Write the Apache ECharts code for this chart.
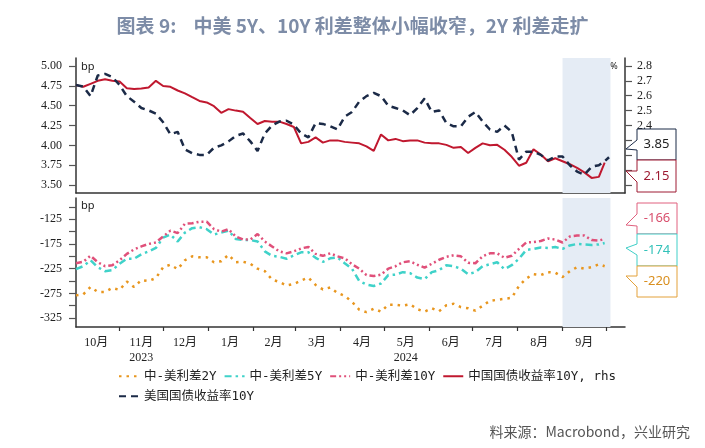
<!DOCTYPE html>
<html><head><meta charset="utf-8">
<script src="https://cdn.jsdelivr.net/npm/echarts@6/dist/echarts.min.js"></script>
<style>html,body{margin:0;padding:0;background:#fff}#c{width:705px;height:448px}</style>
</head><body><div id="c"></div>
<script>
const dates = ['2023-10-02','2023-10-07','2023-10-12','2023-10-17','2023-10-22','2023-10-27','2023-11-01','2023-11-06','2023-11-11','2023-11-16','2023-11-21','2023-11-26','2023-12-01','2023-12-06','2023-12-11','2023-12-16','2023-12-21','2023-12-26','2023-12-31','2024-01-05','2024-01-10','2024-01-15','2024-01-20','2024-01-25','2024-01-30','2024-02-04','2024-02-09','2024-02-14','2024-02-19','2024-02-24','2024-02-29','2024-03-05','2024-03-10','2024-03-15','2024-03-20','2024-03-25','2024-03-30','2024-04-04','2024-04-09','2024-04-14','2024-04-19','2024-04-24','2024-04-29','2024-05-04','2024-05-09','2024-05-14','2024-05-19','2024-05-24','2024-05-29','2024-06-03','2024-06-08','2024-06-13','2024-06-18','2024-06-23','2024-06-28','2024-07-03','2024-07-08','2024-07-13','2024-07-18','2024-07-23','2024-07-28','2024-08-02','2024-08-07','2024-08-12','2024-08-17','2024-08-22','2024-08-27','2024-09-01','2024-09-06','2024-09-11','2024-09-16','2024-09-21','2024-09-26','2024-09-30','2024-10-03'];

const cn10y = [2.671,2.66,2.68,2.70,2.71,2.70,2.695,2.65,2.645,2.648,2.655,2.70,2.665,2.66,2.635,2.616,2.59,2.565,2.555,2.53,2.485,2.51,2.50,2.493,2.45,2.41,2.43,2.426,2.426,2.41,2.39,2.28,2.29,2.32,2.285,2.30,2.30,2.29,2.285,2.28,2.26,2.23,2.34,2.30,2.31,2.295,2.30,2.30,2.285,2.28,2.28,2.27,2.25,2.255,2.215,2.25,2.28,2.267,2.27,2.237,2.19,2.13,2.15,2.24,2.205,2.16,2.18,2.16,2.14,2.115,2.085,2.048,2.055,2.15];

const us10y = [4.76,4.74,4.62,4.88,4.90,4.86,4.76,4.62,4.55,4.47,4.44,4.40,4.29,4.14,4.17,3.95,3.90,3.88,3.88,3.97,4.00,4.05,4.12,4.15,4.05,3.93,4.15,4.25,4.30,4.31,4.26,4.15,4.10,4.28,4.27,4.24,4.20,4.36,4.42,4.55,4.62,4.66,4.62,4.50,4.47,4.44,4.38,4.47,4.59,4.42,4.44,4.28,4.24,4.24,4.36,4.42,4.30,4.20,4.17,4.25,4.17,3.82,3.92,3.92,3.88,3.81,3.86,3.86,3.75,3.67,3.63,3.73,3.75,3.80,3.85];

const spread2y = [-279,-277,-262,-272,-272,-264,-268,-251,-262,-248,-250,-244,-222,-217,-226,-208,-200,-202,-202,-212,-210,-197,-212,-211,-215,-225,-230,-247,-252,-259,-256,-249,-243,-258,-267,-263,-274,-280,-292,-308,-313,-306,-312,-298,-298,-300,-297,-307,-312,-305,-311,-299,-296,-303,-305,-310,-300,-290,-288,-286,-284,-260,-245,-236,-238,-232,-233,-242,-230,-222,-225,-222,-216,-220];

const spread5y = [-226,-220,-208,-222,-230,-228,-215,-205,-205,-196,-190,-183,-162,-156,-170,-152,-143,-141,-145,-156,-152,-148,-165,-167,-167,-170,-190,-199,-201,-205,-198,-192,-192,-203,-211,-204,-202,-214,-225,-250,-257,-260,-255,-238,-237,-232,-234,-243,-246,-232,-228,-218,-220,-225,-236,-232,-220,-216,-212,-226,-218,-205,-187,-185,-182,-183,-181,-185,-178,-175,-176,-177,-176,-173];

const spread10y = [-214,-211,-199,-212,-220,-218,-208,-195,-186,-180,-175,-172,-160,-148,-153,-134,-133,-130,-130,-145,-150,-145,-160,-166,-166,-155,-170,-180,-190,-194,-190,-184,-181,-195,-199,-194,-200,-204,-216,-225,-238,-240,-237,-225,-220,-212,-210,-217,-223,-215,-207,-201,-198,-200,-213,-214,-200,-194,-194,-203,-199,-185,-172,-171,-169,-164,-166,-172,-160,-158,-158,-167,-168,-165];

const leftTicks = [3.5,3.75,4.0,4.25,4.5,4.75,5.0];
const rightTicks = [2.0,2.1,2.2,2.3,2.4,2.5,2.6,2.7,2.8];
const spreadLabelTicks = [-125,-175,-225,-275,-325];
const spreadTicks = [-100,-125,-150,-175,-200,-225,-250,-275,-300,-325];
const monthLabels = ['10月','11月','12月','1月','2月','3月','4月','5月','6月','7月','8月','9月'];
const monthMids = ['2023-10-16','2023-11-16','2023-12-16','2024-01-16','2024-02-15','2024-03-16','2024-04-16','2024-05-16','2024-06-16','2024-07-16','2024-08-16','2024-09-16'];
const monthStarts = ['2023-11-01','2023-12-01','2024-01-01','2024-02-01','2024-03-01','2024-04-01','2024-05-01','2024-06-01','2024-07-01','2024-08-01','2024-09-01','2024-10-01'];
const yearLabels = {'11月':'2023','5月':'2024'};
const latestLabels = ['3.85','2.15','-166','-174','-220'];
const shadeRange = ['2024-09-01','2024-10-04'];
const xRange = ['2023-10-02','2024-10-14'];

const names = ['中-美利差2Y','中-美利差5Y','中-美利差10Y','中国国债收益率10Y, rhs','美国国债收益率10Y'];

function t(s){const p=s.split('-').map(Number);return new Date(p[0],p[1]-1,p[2]).getTime();}
function mk(arr){return dates.map((d,i)=> (arr[i]==null?null:[t(d),arr[i]])).filter(p=>p);}

const labelMap = {};
monthMids.forEach((s,i)=>{const m=monthLabels[i];labelMap[t(s)] = yearLabels[m] ? m+'\n'+yearLabels[m] : m;});

const axisColor = '#333';
const serif = '"Liberation Serif","Noto Sans CJK SC",serif';
const mono = '"DejaVu Sans Mono","Noto Sans CJK SC",monospace';

const C = {o:'#e8961e', t:'#3fd2c9', p:'#e0507a', r:'#c0182f', n:'#1b2a47'};

function callout(pts, stroke, text, tc, cx, cy){
  return [
    {type:'polygon', z:100, shape:{points:pts}, style:{fill:'#fff', stroke:stroke, lineWidth:1}},
    {type:'text', z:101, x:cx, y:cy, style:{text:text, fill:tc, font:'13px "Noto Sans",sans-serif', align:'center', verticalAlign:'middle'}}
  ];
}

const legendBase = {itemWidth:20, itemHeight:14, itemGap:7, selectedMode:false,
  itemStyle:{opacity:0, borderWidth:0},
  textStyle:{fontFamily:mono, fontSize:12.5, color:'#222'}};

const chart = echarts.init(document.getElementById('c'), null, {renderer:'canvas'});
chart.setOption({
  animation:false,
  backgroundColor:'#fff',
  title:{text:'图表 9:    中美 5Y、10Y 利差整体小幅收窄，2Y 利差走扩', left:'center', top:11,
    textStyle:{color:'#7d8ca7', fontSize:19, fontWeight:'bold', fontFamily:'"Noto Sans CJK SC",sans-serif'}},
  grid:[
    {left:76, top:58, width:549, height:135},
    {left:76, top:198, width:549, height:129}
  ],
  legend:[
    Object.assign({data:names.slice(0,4), left:113, top:365}, legendBase),
    Object.assign({data:names.slice(4), left:113, top:385}, legendBase)
  ],
  xAxis:[
    {type:'value', gridIndex:0, min:t(xRange[0]), max:t(xRange[1]),
      axisLine:{show:true, onZero:false, lineStyle:{color:axisColor, width:1.5}},
      axisTick:{show:false}, axisLabel:{show:false}, splitLine:{show:false}},
    {type:'value', gridIndex:1, min:t(xRange[0]), max:t(xRange[1]),
      axisLine:{show:true, onZero:false, lineStyle:{color:axisColor, width:1.5}},
      axisTick:{show:true, customValues:monthStarts.map(t), length:4, lineStyle:{color:axisColor, width:1.2}},
      axisLabel:{customValues:monthMids.map(t), formatter:v=>labelMap[v]||'', margin:8, color:'#222',
        fontFamily:serif, fontSize:12, lineHeight:15, hideOverlap:false},
      splitLine:{show:false}}
  ],
  yAxis:[
    {type:'value', gridIndex:0, position:'left', min:3.4, max:5.1,
      axisLine:{show:true, lineStyle:{color:axisColor, width:1.5}},
      axisTick:{show:true, customValues:leftTicks, length:7, lineStyle:{color:'#555', width:1.2}},
      axisLabel:{customValues:leftTicks, formatter:v=>v.toFixed(2), margin:14, color:'#222', fontFamily:serif, fontSize:12},
      splitLine:{show:false}},
    {type:'value', gridIndex:0, position:'right', min:1.9466667, max:2.8533333,
      axisLine:{show:true, lineStyle:{color:axisColor, width:1.5}},
      axisTick:{show:true, customValues:rightTicks, length:7, lineStyle:{color:'#555', width:1.2}},
      axisLabel:{customValues:rightTicks, formatter:v=>v.toFixed(1), margin:12, color:'#222', fontFamily:serif, fontSize:12},
      splitLine:{show:false}},
    {type:'value', gridIndex:1, position:'left', min:-343, max:-82,
      axisLine:{show:true, lineStyle:{color:axisColor, width:1.5}},
      axisTick:{show:true, customValues:spreadTicks, length:7, lineStyle:{color:'#555', width:1.2}},
      axisLabel:{customValues:spreadLabelTicks, formatter:v=>String(v), margin:14, color:'#222', fontFamily:serif, fontSize:12},
      splitLine:{show:false}}
  ],
  series:[
    {name:'shadeTop', type:'line', xAxisIndex:0, yAxisIndex:1, data:mk(cn10y), symbol:'none', silent:true, z:1,
      lineStyle:{opacity:0}, markArea:{silent:true, itemStyle:{color:'#e5ecf5'}, data:[[{xAxis:t(shadeRange[0])},{xAxis:t(shadeRange[1])}]]}},
    {name:'shadeBottom', type:'line', xAxisIndex:1, yAxisIndex:2, data:mk(spread2y), symbol:'none', silent:true, z:1,
      lineStyle:{opacity:0}, markArea:{silent:true, itemStyle:{color:'#e5ecf5'}, data:[[{xAxis:t(shadeRange[0])},{xAxis:t(shadeRange[1])}]]}},
    {name:names[0], type:'line', xAxisIndex:1, yAxisIndex:2, data:mk(spread2y), symbol:'none',
      itemStyle:{color:C.o}, lineStyle:{color:C.o, width:2.5, type:[2.5,5]}},
    {name:names[1], type:'line', xAxisIndex:1, yAxisIndex:2, data:mk(spread5y), symbol:'none',
      itemStyle:{color:C.t}, lineStyle:{color:C.t, width:2.5, type:[7,4,2.5,4]}},
    {name:names[2], type:'line', xAxisIndex:1, yAxisIndex:2, data:mk(spread10y), symbol:'none',
      itemStyle:{color:C.p}, lineStyle:{color:C.p, width:2.5, type:[6,3,2,3,2,3]}},
    {name:names[3], type:'line', xAxisIndex:0, yAxisIndex:1, data:mk(cn10y), symbol:'none',
      itemStyle:{color:C.r}, lineStyle:{color:C.r, width:2}},
    {name:names[4], type:'line', xAxisIndex:0, yAxisIndex:0, data:mk(us10y), symbol:'none',
      itemStyle:{color:C.n}, lineStyle:{color:C.n, width:2.5, type:[7,5]}}
  ],
  graphic:[
    {type:'text', x:81, y:67, z:50, style:{text:'bp', fill:'#222', font:'11px "Noto Sans",sans-serif', verticalAlign:'middle'}},
    {type:'text', x:81, y:206, z:50, style:{text:'bp', fill:'#222', font:'11px "Noto Sans",sans-serif', verticalAlign:'middle'}},
    {type:'text', x:614, y:66, z:50, style:{text:'%', fill:'#222', font:'9px "Noto Sans",sans-serif', align:'center', verticalAlign:'middle'}},
    ...callout([[637,129],[676,129],[676,160],[637,160],[637,150],[626,149],[637,140]], C.n, latestLabels[0], '#222', 656.5, 144.5),
    ...callout([[637,160],[676,160],[676,192],[637,192],[637,182],[626,171],[637,171]], '#9e1b32', latestLabels[1], '#9e1b32', 656.5, 176),
    ...callout([[637,203],[677,203],[677,234],[637,234],[637,226],[626,225],[637,214]], '#e0607e', latestLabels[2], '#d9506e', 657, 218.5),
    ...callout([[637,234],[677,234],[677,266],[637,266],[637,255],[626,248],[637,244]], '#40cfc8', latestLabels[3], '#33c2b9', 657, 250),
    ...callout([[637,266],[677,266],[677,297],[637,297],[637,287],[626,276],[637,276]], '#e3a13a', latestLabels[4], '#d98f1f', 657, 281.5),
    {type:'text', x:690, y:432, z:50, style:{text:'料来源：Macrobond，兴业研究', fill:'#555', font:'14px "Noto Sans CJK SC",sans-serif', align:'right', verticalAlign:'middle'}}
  ]
});
</script></body></html>
